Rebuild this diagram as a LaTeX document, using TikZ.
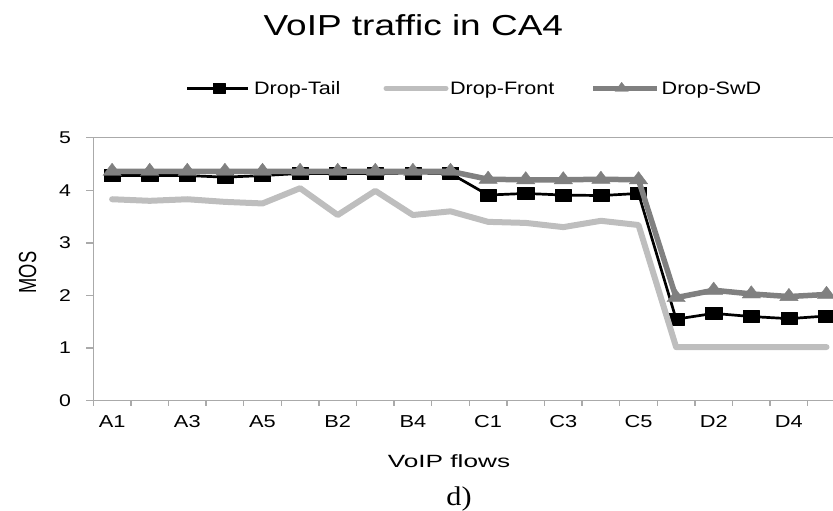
\documentclass[tikz,border=0pt]{standalone}
\usepackage{fontspec}
\setmainfont{Liberation Sans}
\newfontfamily\serifd{Liberation Serif}
\usetikzlibrary{plotmarks}
\definecolor{frontc}{RGB}{190,190,190}
\definecolor{swdc}{RGB}{128,128,128}
\definecolor{axisc}{RGB}{170,170,170}
\newcommand{\stretchtext}[3]{\scalebox{#1}[1]{\fontsize{#2}{#2}\selectfont #3}}
\tikzset{
  axisline/.style={draw=axisc, line width=1.4pt},
  tailline/.style={draw=black, line width=2.7pt, line join=round},
  frontline/.style={draw=frontc, line width=6pt, line join=round, line cap=round},
  swdline/.style={draw=swdc, line width=5.5pt, line join=round},
  tailmark/.style={mark=square*, mark size=6pt, mark options={draw=black, fill=black, line width=0.4pt, xscale=1.35}},
  swdmark/.style={mark=triangle*, mark size=8.2pt, mark options={draw=swdc, fill=swdc, line width=0.4pt, xscale=1.3}},
  lbl/.style={inner sep=0pt, outer sep=0pt}
}
\begin{document}
\begin{tikzpicture}[x=1pt, y=-1pt]
\useasboundingbox (0,0) rectangle (833,511);
\clip (0,0) rectangle (833,511);
% title
\node[lbl, anchor=base] (title) at (413.3,35.7) {\stretchtext{1.28}{28.9pt}{VoIP traffic in CA4}};
% legend
\draw[tailline] (187.3,88.3) -- (248.3,88.3);
\draw[tailline] plot[mark=square*, mark size=5pt, mark options={draw=black, fill=black, line width=0.4pt, xscale=1.2}] coordinates {(219,88.3)};
\node[lbl, anchor=base west] (ltail) at (254,95) {\stretchtext{1.2}{18pt}{Drop-Tail}};
\draw[frontline, line width=5pt] (386,88.3) -- (446,88.3);
\node[lbl, anchor=base west] (lfront) at (450,95) {\stretchtext{1.2}{18pt}{Drop-Front}};
\draw[swdline, line width=5pt] (593,88.3) -- (656.7,88.3);
\draw[swdline] plot[mark=triangle*, mark size=6pt, mark options={draw=swdc, fill=swdc, line width=0.4pt, xscale=1.3}] coordinates {(621.7,88.3)};
\node[lbl, anchor=base west] (lswd) at (661.7,95) {\stretchtext{1.2}{18pt}{Drop-SwD}};
% axes
\draw[axisline] (86,137.7) -- (840,137.7);
\draw[axisline] (93.3,137.7) -- (93.3,404.5);
\draw[axisline] (86,400.7) -- (840,400.7);
\foreach \v in {0,...,5} {
  \draw[axisline] (86,{400.7-52.6*\v}) -- (93.3,{400.7-52.6*\v});
  \node[lbl, anchor=east] (yl\v) at (71,{400.7-52.6*\v}) {\stretchtext{1.25}{17pt}{\v}};
}
\foreach \k in {0,...,20} {
  \draw[axisline] ({93.3+\k*37.6},400.7) -- ({93.3+\k*37.6},405.5);
}
\foreach \lab [count=\k] in {A1,A3,A5,B2,B4,C1,C3,C5,D2,D4} {
  \node[lbl, anchor=base] (xl\k) at ({93.3+(2*\k-1.5)*37.6},427.7) {\stretchtext{1.26}{17.3pt}{\lab}};
}
\node[lbl, rotate=90] (ytitle) at (27.5,272.5) {\scalebox{1}[1.35]{\fontsize{18.3pt}{18.3pt}\selectfont MOS}};
\node[lbl, anchor=base] (xtitle) at (449,467.7) {\stretchtext{1.48}{17.7pt}{VoIP flows}};
\node[lbl, anchor=base] (sub) at (459,505.7) {\scalebox{1.12}[1]{\serifd\fontsize{27pt}{27pt}\selectfont d)}};
% series
\begin{scope}[shift={(93.3,400.7)}, x=37.6pt, y=52.6pt]
\draw[tailline] plot[tailmark] coordinates {
 (0.5,4.28) (1.5,4.28) (2.5,4.28) (3.5,4.25) (4.5,4.28)
 (5.5,4.32) (6.5,4.32) (7.5,4.32) (8.5,4.33) (9.5,4.32)
 (10.5,3.91) (11.5,3.94) (12.5,3.91) (13.5,3.90) (14.5,3.94)
 (15.5,1.55) (16.5,1.66) (17.5,1.60) (18.5,1.56) (19.5,1.61)};
\draw[frontline] plot coordinates {
 (0.5,3.83) (1.5,3.80) (2.5,3.83) (3.5,3.78) (4.5,3.75)
 (5.5,4.04) (6.5,3.53) (7.5,3.99) (8.5,3.53) (9.5,3.60)
 (10.5,3.40) (11.5,3.38) (12.5,3.30) (13.5,3.42) (14.5,3.34)
 (15.5,1.02) (16.5,1.02) (17.5,1.02) (18.5,1.02) (19.5,1.02)};
\draw[swdline] plot[swdmark] coordinates {
 (0.5,4.36) (1.5,4.36) (2.5,4.36) (3.5,4.36) (4.5,4.36)
 (5.5,4.36) (6.5,4.36) (7.5,4.36) (8.5,4.36) (9.5,4.36)
 (10.5,4.21) (11.5,4.20) (12.5,4.20) (13.5,4.21) (14.5,4.20)
 (15.5,1.96) (16.5,2.10) (17.5,2.03) (18.5,1.98) (19.5,2.02)};
\end{scope}
\end{tikzpicture}
\end{document}
